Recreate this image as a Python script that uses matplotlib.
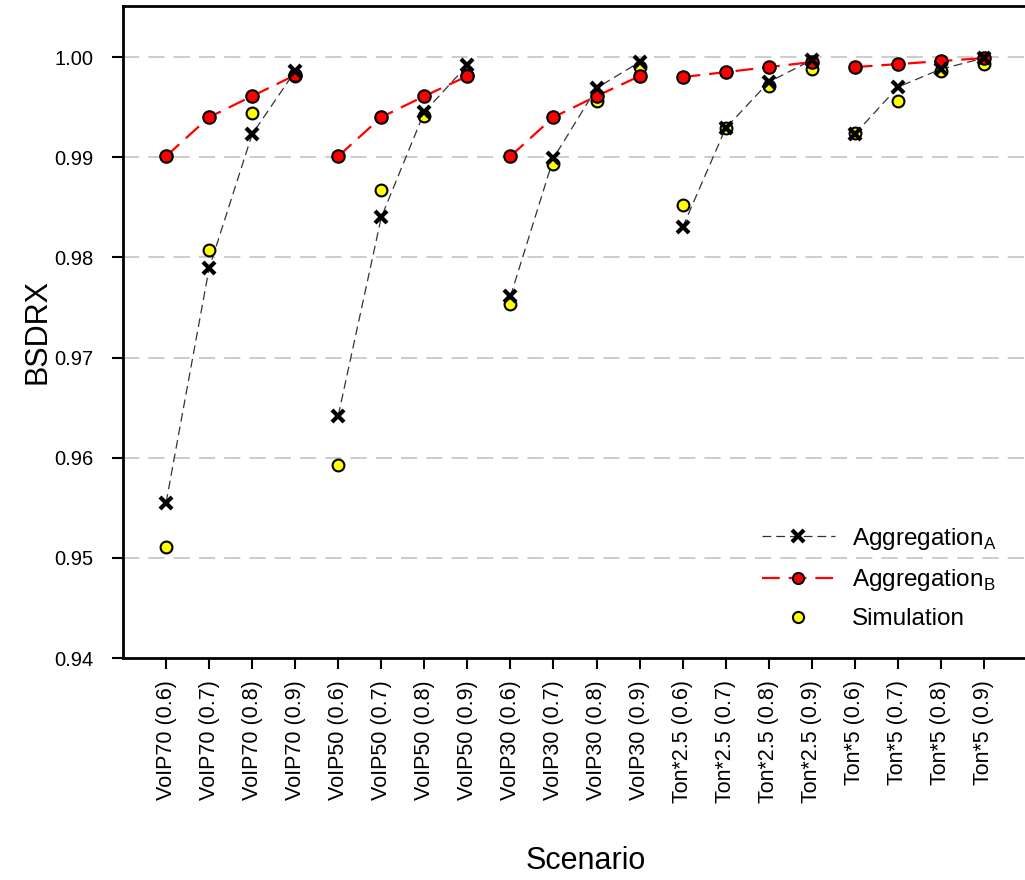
import matplotlib
matplotlib.use("Agg")
import matplotlib.pyplot as plt
from matplotlib.lines import Line2D
import numpy as np

plt.rcParams['font.family'] = ['Liberation Sans', 'DejaVu Sans']
plt.rcParams['mathtext.fontset'] = 'custom'
plt.rcParams['mathtext.rm'] = 'Liberation Sans'

scenarios = [
    "VoIP70 (0.6)", "VoIP70 (0.7)", "VoIP70 (0.8)", "VoIP70 (0.9)",
    "VoIP50 (0.6)", "VoIP50 (0.7)", "VoIP50 (0.8)", "VoIP50 (0.9)",
    "VoIP30 (0.6)", "VoIP30 (0.7)", "VoIP30 (0.8)", "VoIP30 (0.9)",
    "Ton*2.5 (0.6)", "Ton*2.5 (0.7)", "Ton*2.5 (0.8)", "Ton*2.5 (0.9)",
    "Ton*5 (0.6)", "Ton*5 (0.7)", "Ton*5 (0.8)", "Ton*5 (0.9)",
]

aggregation_a = [
    0.9555, 0.9789, 0.9923, 0.9986,
    0.9642, 0.9840, 0.9945, 0.9992,
    0.9761, 0.9899, 0.9969, 0.9995,
    0.9830, 0.9929, 0.9975, 0.9997,
    0.9923, 0.9970, 0.9988, 0.9999,
]
aggregation_b = [
    0.9901, 0.9940, 0.9961, 0.9982,
    0.9901, 0.9940, 0.9961, 0.9981,
    0.9901, 0.9940, 0.9961, 0.9981,
    0.9980, 0.9985, 0.9990, 0.9995,
    0.9990, 0.9993, 0.9996, 0.9999,
]
simulation = [
    0.9511, 0.9807, 0.9944, 0.9981,
    0.9593, 0.9867, 0.9941, 0.9982,
    0.9753, 0.9893, 0.9956, 0.9990,
    0.9852, 0.9929, 0.9971, 0.9988,
    0.9924, 0.9956, 0.9986, 0.9993,
]
y_ticks = [0.94, 0.95, 0.96, 0.97, 0.98, 0.99, 1.00]
y_tick_labels = ["0.94", "0.95", "0.96", "0.97", "0.98", "0.99", "1.00"]

group_size = 4

fig = plt.figure(figsize=(10.25, 8.8), dpi=100)
W, H = 1025, 880
ax = fig.add_axes([123 / W, 1 - 658 / H, 904 / W, (658 - 6) / H])

x = np.arange(1, len(scenarios) + 1)

ax.set_ylim(0.94, 1.0051)
ax.set_xlim(0, len(scenarios) + 1)
ax.set_yticks(y_ticks)
ax.set_yticklabels(y_tick_labels)
for yv in y_ticks[1:]:
    ax.axhline(yv, color="#c8c8c8", lw=1.3, dashes=(9, 5), zorder=0)

# one connected curve per scenario family
for g in range(0, len(scenarios), group_size):
    sl = slice(g, g + group_size)
    ax.plot(x[sl], aggregation_a[sl], color="#333333", lw=0.9, dashes=(7, 4), zorder=2)
    ax.plot(x[sl], aggregation_b[sl], color="#ff0000", lw=1.6, dashes=(8, 4), zorder=2)

ax.plot(x, simulation, ls="none", marker="o", ms=8.5, mfc="#ffff00", mec="black", mew=1.5, zorder=3)
ax.plot(x, aggregation_b, ls="none", marker="o", ms=9, mfc="#ff0000", mec="black", mew=1.5, zorder=4)
ax.plot(x, aggregation_a, ls="none", marker="x", ms=9, mec="black", mew=3.0, zorder=5)

ax.set_xticks(x)
ax.set_xticklabels(scenarios, rotation=90, fontsize=15.5)
ax.tick_params(axis="y", labelsize=14.5, direction="out", length=8, width=1.5, pad=13)
ax.tick_params(axis="x", direction="out", length=8, width=1.5, pad=8)

for side in ["left", "bottom", "top"]:
    ax.spines[side].set_linewidth(2)
ax.spines["right"].set_visible(False)

ax.set_ylabel("BSDRX", fontsize=22)
ax.yaxis.set_label_coords(-85 / 904, 0.5)
ax.set_xlabel("Scenario", fontsize=22)
ax.xaxis.set_label_coords((586 - 123) / 904, -(861 - 658) / 652)
ax.xaxis.label.set_va("center")
ax.yaxis.label.set_va("center")

handles = [
    Line2D([], [], color="#333333", lw=0.9, dashes=(7, 4), marker="x", ms=9, mec="black", mew=3.0),
    Line2D([], [], color="#ff0000", lw=1.6, dashes=(8, 4), marker="o", ms=8, mfc="#ff0000", mec="black", mew=1.5),
    Line2D([], [], ls="none", marker="o", ms=8, mfc="#ffff00", mec="black", mew=1.5),
]
labels = [r"Aggregation$_\mathregular{A}$", r"Aggregation$_\mathregular{B}$", "Simulation"]
fig.legend(handles, labels, loc="upper left", bbox_to_anchor=(762 / W, 1 - 526 / H),
           frameon=False, fontsize=17.5, handlelength=3.0, labelspacing=0.62,
           handletextpad=0.7, borderpad=0, borderaxespad=0)

fig.savefig("out.png", dpi=100)
